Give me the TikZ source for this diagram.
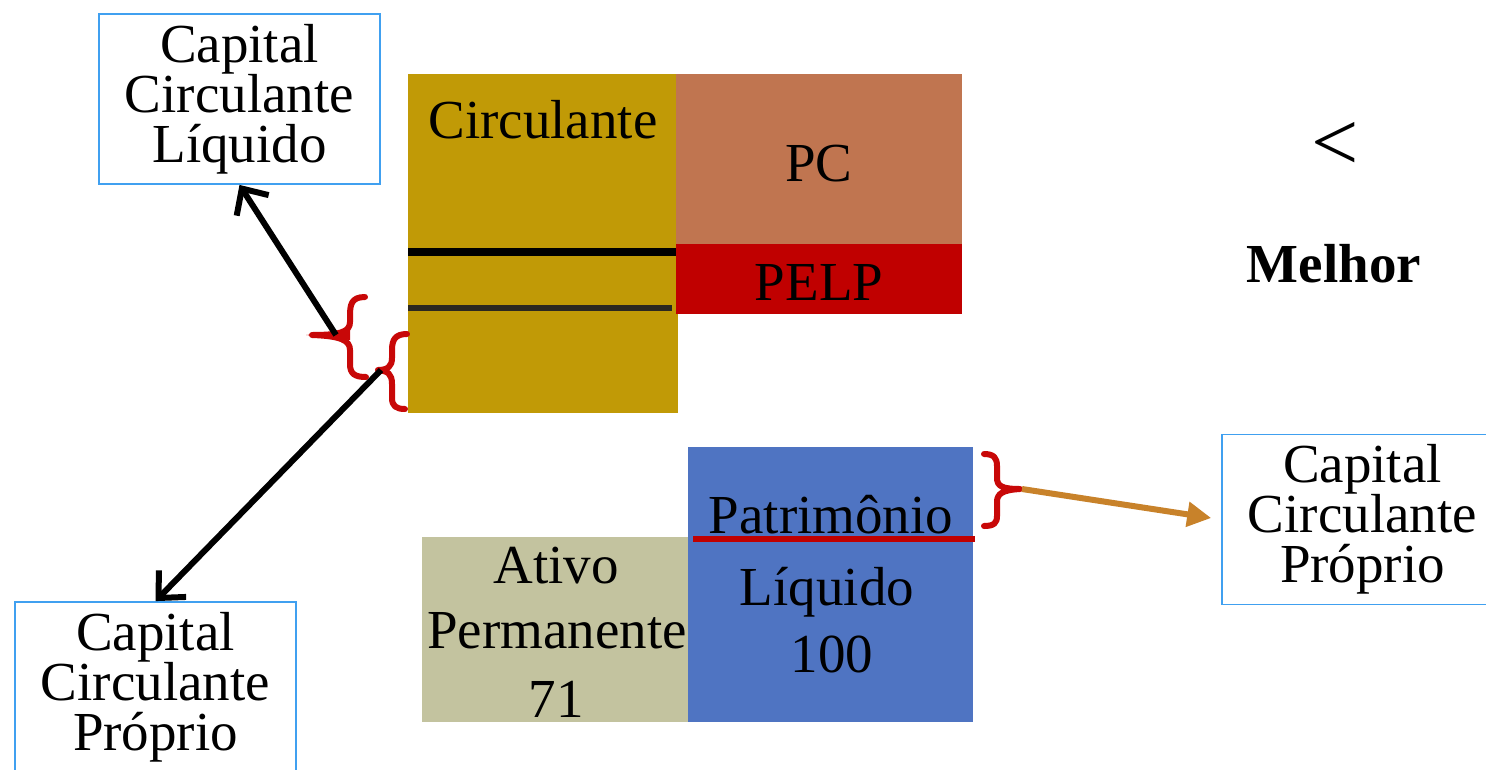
\documentclass[tikz,border=0pt]{standalone}
\usepackage{fontspec}
\setmainfont{Liberation Serif}
\usetikzlibrary{arrows.meta}
\definecolor{gold}{HTML}{C19A06}
\definecolor{pcbrown}{HTML}{C07550}
\definecolor{pelpred}{HTML}{C00000}
\definecolor{ativo}{HTML}{C3C39F}
\definecolor{plblue}{HTML}{4F74C2}
\definecolor{boxblue}{HTML}{40A0F0}
\definecolor{arrorange}{HTML}{C8822A}
\definecolor{darkline}{HTML}{2B2820}
\definecolor{bracered}{HTML}{C80808}
\tikzset{
  big/.style={font=\fontsize{55}{50}\selectfont},
  labelbox/.style={draw=boxblue, line width=1.8pt, fill=white, minimum width=281pt, minimum height=170pt, inner sep=0pt, align=center, big},
  block/.style={draw=none, inner sep=0pt, anchor=north west},
  txt/.style={font=\fontsize{55}{66}\selectfont, inner sep=0pt, anchor=base},
  bracestyle/.style={draw=bracered, line width=6pt, line cap=round, line join=round},
  blackarrow/.style={line width=6pt, -{Straight Barb[length=20pt,width=38pt,line width=6pt]}},
}
\begin{document}
\begin{tikzpicture}[x=1pt,y=-1pt]
\useasboundingbox[fill=white] (0,0) rectangle (1486,769);

% top blocks
\node[block, fill=gold, minimum width=270pt, minimum height=339pt] (circ) at (408,74) {};
\node[block, fill=pcbrown, minimum width=286pt, minimum height=171pt] (pc) at (676,74) {};
\node[block, fill=pelpred, minimum width=286pt, minimum height=70pt] (pelp) at (676,244) {};
\draw[line width=8pt] (408,252) -- (676,252);
\draw[darkline, line width=6pt] (408,308) -- (672,308);
\node[txt] (tcirc) at (543,138) {Circulante};
\node[txt] (tpc) at (819,181) {PC};
\node[txt] (tpelp) at (819,300) {PELP};

% bottom blocks
\node[block, fill=ativo, minimum width=266pt, minimum height=185pt] (ap) at (422,537) {};
\node[block, fill=plblue, minimum width=285pt, minimum height=275pt] (pl) at (688,447) {};
\node[txt] (tat1) at (556,583) {Ativo};
\node[txt] (tat2) at (557,648) {Permanente};
\node[txt] (tat3) at (556,717) {71};
\node[txt] (tpl1) at (831,533) {Patrimônio};
\node[txt] (tpl2) at (827,605) {Líquido};
\node[txt] (tpl3) at (832,672) {100};
\draw[pelpred, line width=6pt] (693,539) -- (975,539);

% label boxes
\node[labelbox] (ccl) at (239.5,99) {Capital\\Circulante\\Líquido};
\node[labelbox] (ccpa) at (155.5,687) {Capital\\Circulante\\Próprio};
\node[labelbox] (ccpb) at (1362.5,519.5) {Capital\\Circulante\\Próprio};

% right text
\node[font=\fontsize{84}{84}\selectfont, inner sep=0pt] (lt) at (1335,146) {<};
\node[txt, font=\fontsize{55}{66}\selectfont\bfseries] (melhor) at (1334,282) {Melhor};

% braces
\draw[bracestyle] (365,297) .. controls (351,297) and (350,305) .. (350,316)
  -- (350,322) .. controls (350,332) and (340,335) .. (312,335)
  .. controls (340,336) and (350,340) .. (350,350)
  -- (350,364) .. controls (350,374) and (355,377) .. (366,377);
\fill[bracered] (350,330) -- (306,335) -- (350,340) -- cycle;
\draw[bracestyle] (407,334) .. controls (395,334) and (392,340) .. (392,350)
  -- (392,358) .. controls (392,366) and (388,370) .. (378,370)
  .. controls (388,371) and (392,374) .. (392,384)
  -- (392,398) .. controls (392,406) and (396,409) .. (405,409);
\draw[bracestyle] (984,454) .. controls (994,454) and (997,458) .. (997,466)
  -- (997,478) .. controls (997,486) and (1002,489) .. (1020,489)
  .. controls (1002,490) and (997,494) .. (997,502)
  -- (997,516) .. controls (997,523) and (994,526) .. (984,526);

\coordinate (bt1) at (336,335);
\coordinate (bt2) at (381,370);
\coordinate (bt3) at (1022,489);

% connectors
\draw[blackarrow] (bt1) -- (ccl.south);
\draw[blackarrow] (bt2) -- (ccpa.north);
\draw[arrorange, line width=6pt, shorten >=10pt, -{Triangle[length=24pt,width=24pt]}] (bt3) -- (ccpb.west);
\end{tikzpicture}
\end{document}
